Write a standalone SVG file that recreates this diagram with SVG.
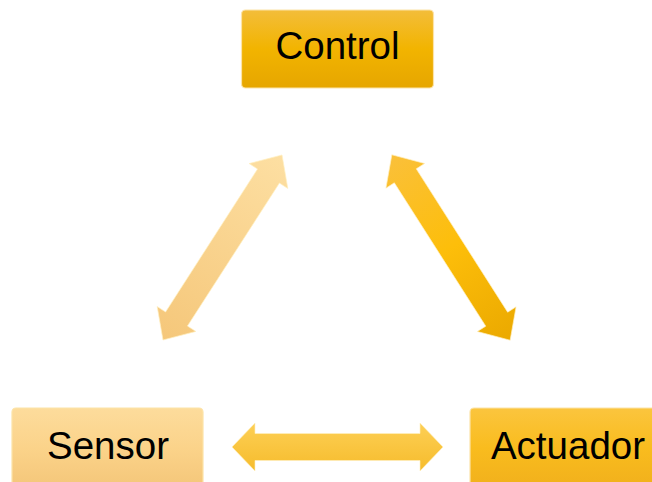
<svg xmlns="http://www.w3.org/2000/svg" width="652" height="482" viewBox="0 0 652 482">
<defs>
<linearGradient id="gCtrl" x1="0" y1="0" x2="0" y2="1">
<stop offset="0" stop-color="#F3BD3A"/><stop offset="0.5" stop-color="#F2B400"/><stop offset="1" stop-color="#E6A600"/>
</linearGradient>
<linearGradient id="gSens" x1="0" y1="0" x2="0" y2="1">
<stop offset="0" stop-color="#FDDC9C"/><stop offset="0.5" stop-color="#FBD38A"/><stop offset="1" stop-color="#F4C679"/>
</linearGradient>
<linearGradient id="gAct" x1="0" y1="0" x2="0" y2="1">
<stop offset="0" stop-color="#FBC53E"/><stop offset="0.5" stop-color="#F9BC1E"/><stop offset="1" stop-color="#F1B01C"/>
</linearGradient>
<linearGradient id="gLeft" x1="1" y1="0" x2="0" y2="0">
<stop offset="0" stop-color="#FDDFA2"/><stop offset="1" stop-color="#F5C77A"/>
</linearGradient>
<linearGradient id="gRight" x1="0" y1="0" x2="1" y2="0">
<stop offset="0" stop-color="#FAC03A"/><stop offset="0.5" stop-color="#FDBE0A"/><stop offset="1" stop-color="#EBA900"/>
</linearGradient>
<linearGradient id="gBot" x1="0" y1="0" x2="0" y2="1">
<stop offset="0" stop-color="#FDCF55"/><stop offset="1" stop-color="#F6BC2C"/>
</linearGradient>
</defs>
<style>
.box{stroke:#FCE3A8;stroke-width:1.2}
.lbl{font-family:"Liberation Sans",Arial,sans-serif;font-size:38.5px;fill:#000;text-anchor:middle}
.arr{stroke:#FFF0C0;stroke-width:0.8;stroke-opacity:0.8}
</style>
<g id="connectors">
<polygon class="arr" fill="url(#gLeft)" transform="translate(222.5,247.5) rotate(-57.25)" points="-110,0 -85,-23 -85,-13 85,-13 85,-23 110,0 85,23 85,13 -85,13 -85,23"/>
<polygon class="arr" fill="url(#gRight)" transform="translate(451,247.5) rotate(57.47)" points="-110,0 -85,-23 -85,-13 85,-13 85,-23 110,0 85,23 85,13 -85,13 -85,23"/>
<polygon class="arr" fill="url(#gBot)" transform="translate(337.5,447)" points="-105.5,0 -82.5,-24 -82.5,-13.5 82.5,-13.5 82.5,-24 105.5,0 82.5,24 82.5,13.5 -82.5,13.5 -82.5,24"/>
</g>
<g id="control">
<rect class="box" x="241.5" y="10" width="192" height="78" rx="4" fill="url(#gCtrl)"/>
<text class="lbl" x="337.5" y="59">Control</text>
</g>
<g id="sensor">
<rect class="box" x="12" y="408" width="191" height="80" rx="4" fill="url(#gSens)"/>
<text class="lbl" x="108" y="459">Sensor</text>
</g>
<g id="actuador">
<rect class="box" x="470" y="408" width="192" height="80" rx="4" fill="url(#gAct)"/>
<text class="lbl" x="568" y="459">Actuador</text>
</g>
</svg>
